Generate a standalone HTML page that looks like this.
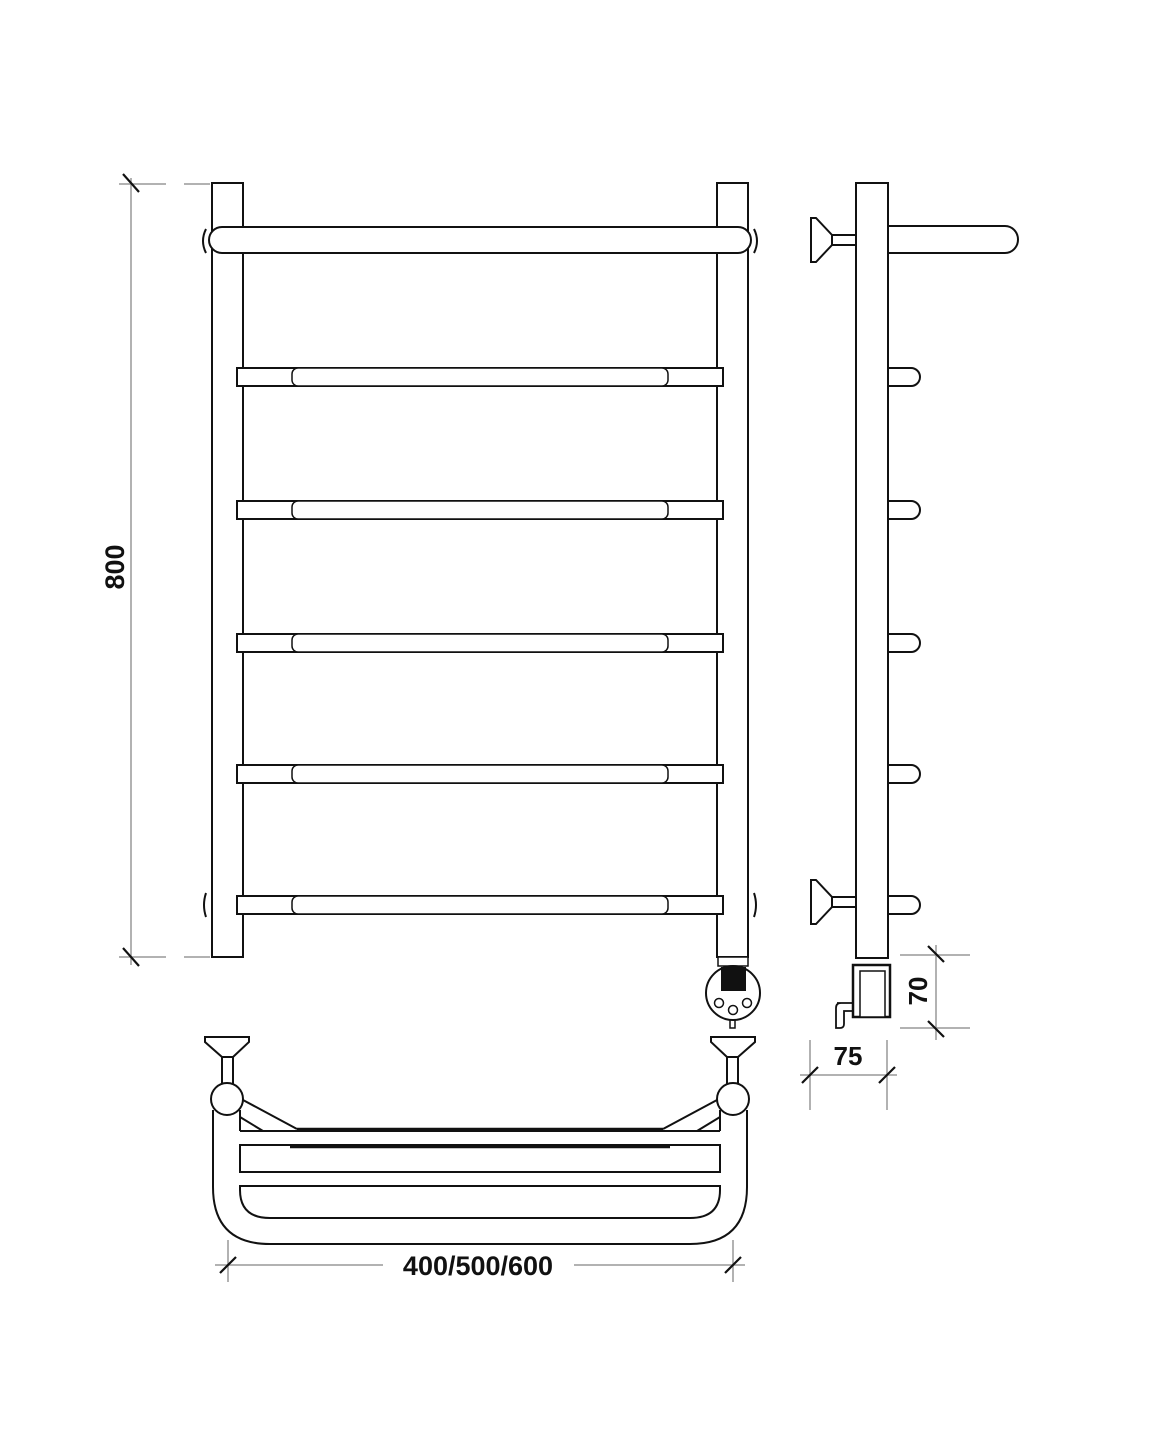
<!DOCTYPE html>
<html><head><meta charset="utf-8"><style>
html,body{margin:0;padding:0;background:#fff;}
svg{display:block;}
text{font-family:"Liberation Sans",sans-serif;font-weight:bold;fill:#111;}
</style></head><body>
<svg width="1162" height="1453" viewBox="0 0 1162 1453" xmlns="http://www.w3.org/2000/svg">
<g fill="none" stroke="#999" stroke-width="1.5">
  <line x1="131" y1="178" x2="131" y2="965"/>
  <line x1="119" y1="184" x2="166" y2="184"/><line x1="184" y1="184" x2="210" y2="184"/>
  <line x1="119" y1="957" x2="166" y2="957"/><line x1="184" y1="957" x2="210" y2="957"/>
  <line x1="215" y1="1265" x2="383" y2="1265"/><line x1="574" y1="1265" x2="745" y2="1265"/>
  <line x1="228" y1="1240" x2="228" y2="1282"/><line x1="733" y1="1240" x2="733" y2="1282"/>
  <line x1="900" y1="955" x2="970" y2="955"/><line x1="900" y1="1028" x2="970" y2="1028"/>
  <line x1="936" y1="945" x2="936" y2="1040"/>
  <line x1="810" y1="1040" x2="810" y2="1110"/><line x1="887" y1="1040" x2="887" y2="1110"/>
  <line x1="800" y1="1075" x2="897" y2="1075"/>
</g>
<g stroke="#111" stroke-width="2.2">
  <line x1="123" y1="174" x2="139" y2="192"/><line x1="123" y1="948" x2="139" y2="966"/>
  <line x1="220" y1="1273" x2="236" y2="1257"/><line x1="725" y1="1273" x2="741" y2="1257"/>
  <line x1="928" y1="946" x2="944" y2="962"/><line x1="928" y1="1021" x2="944" y2="1037"/>
  <line x1="802" y1="1083" x2="818" y2="1067"/><line x1="879" y1="1083" x2="895" y2="1067"/>
</g>
<text x="0" y="0" font-size="27" text-anchor="middle" transform="translate(124,567) rotate(-90)">800</text>
<text x="478" y="1275" font-size="27" text-anchor="middle">400/500/600</text>
<text x="848" y="1065" font-size="26" text-anchor="middle">75</text>
<text x="0" y="0" font-size="26" text-anchor="middle" transform="translate(927,991) rotate(-90)">70</text>

<g fill="#fff" stroke="#111" stroke-width="2">
  <rect x="212" y="183" width="31" height="774"/>
  <rect x="717" y="183" width="31" height="774"/>
  <g>
    <rect x="237" y="368" width="486" height="18"/>
    <rect x="237" y="501" width="486" height="18"/>
    <rect x="237" y="634" width="486" height="18"/>
    <rect x="237" y="765" width="486" height="18"/>
    <rect x="237" y="896" width="486" height="18"/>
  </g>
  <g stroke-width="1.5">
    <rect x="292" y="368" width="376" height="18" rx="6"/>
    <rect x="292" y="501" width="376" height="18" rx="6"/>
    <rect x="292" y="634" width="376" height="18" rx="6"/>
    <rect x="292" y="765" width="376" height="18" rx="6"/>
    <rect x="292" y="896" width="376" height="18" rx="6"/>
  </g>
  <path d="M206 893 q-4 12 0 24 M754 893 q4 12 0 24" fill="none"/>
  <path d="M206 229 q-6 12 0 24 M754 229 q6 12 0 24" fill="none"/>
  <rect x="209" y="227" width="542" height="26" rx="13"/>
  <rect x="718" y="957" width="30" height="9" stroke-width="1.5"/>
  <rect x="730" y="1015" width="5" height="13" stroke-width="1.5"/>
  <circle cx="733" cy="993" r="27"/>
  <rect x="722" y="968" width="23" height="22" fill="#111"/>
  <circle cx="719" cy="1003" r="4.5" stroke-width="1.5"/>
  <circle cx="733" cy="1010" r="4.5" stroke-width="1.5"/>
  <circle cx="747" cy="1003" r="4.5" stroke-width="1.5"/>

  <path d="M888 226 H1005 a13 13.5 0 0 1 0 27 H888 Z"/>
  <g>
    <path d="M888 368 H911 a9 9 0 0 1 0 18 H888 Z"/>
    <path d="M888 501 H911 a9 9 0 0 1 0 18 H888 Z"/>
    <path d="M888 634 H911 a9 9 0 0 1 0 18 H888 Z"/>
    <path d="M888 765 H911 a9 9 0 0 1 0 18 H888 Z"/>
    <path d="M888 896 H911 a9 9 0 0 1 0 18 H888 Z"/>
  </g>
  <rect x="832" y="235" width="25" height="10"/>
  <path d="M811 218 H816 L832 235 V245 L816 262 H811 Z"/>
  <rect x="832" y="897" width="25" height="10"/>
  <path d="M811 880 H816 L832 897 V907 L816 924 H811 Z"/>
  <rect x="856" y="183" width="32" height="775"/>
  <line x1="856" y1="958" x2="888" y2="958"/>
  <path d="M837 1003 H853 V1011 H844 V1024 Q844 1028 840 1028 H836 V1008 Q836 1003 841 1003 Z" stroke-width="1.8"/>
  <rect x="853" y="965" width="37" height="52" stroke-width="2.5"/>
  <rect x="860" y="971" width="25" height="46" stroke-width="1.5"/>

  <path d="M213 1110 V1187 Q213 1244 270 1244 H690 Q747 1244 747 1187 V1110"/>
  <path d="M240 1186 H720 V1190 Q720 1218 690 1218 H270 Q240 1218 240 1190 Z"/>
  <rect x="240" y="1145" width="480" height="27"/>
  <rect x="240" y="1118" width="480" height="13" stroke="none"/>
  <line x1="240" y1="1131" x2="720" y2="1131"/>
  <line x1="297" y1="1129" x2="663" y2="1129" stroke-width="2.5"/>
  <line x1="290" y1="1147" x2="670" y2="1147" stroke-width="2.5"/>
  <line x1="240" y1="1110" x2="240" y2="1131"/><line x1="720" y1="1110" x2="720" y2="1131"/>
  <path d="M243 1100 L297 1129 M240 1117 L263 1131 M717 1100 L663 1129 M720 1117 L697 1131" fill="none"/>
  <rect x="222" y="1057" width="11" height="28"/>
  <path d="M205 1037 H249 V1042 L233 1057 H222 L205 1042 Z"/>
  <rect x="727" y="1057" width="11" height="28"/>
  <path d="M711 1037 H755 V1042 L738 1057 H727 L711 1042 Z"/>
  <circle cx="227" cy="1099" r="16"/>
  <circle cx="733" cy="1099" r="16"/>
</g>
</svg>
</body></html>
